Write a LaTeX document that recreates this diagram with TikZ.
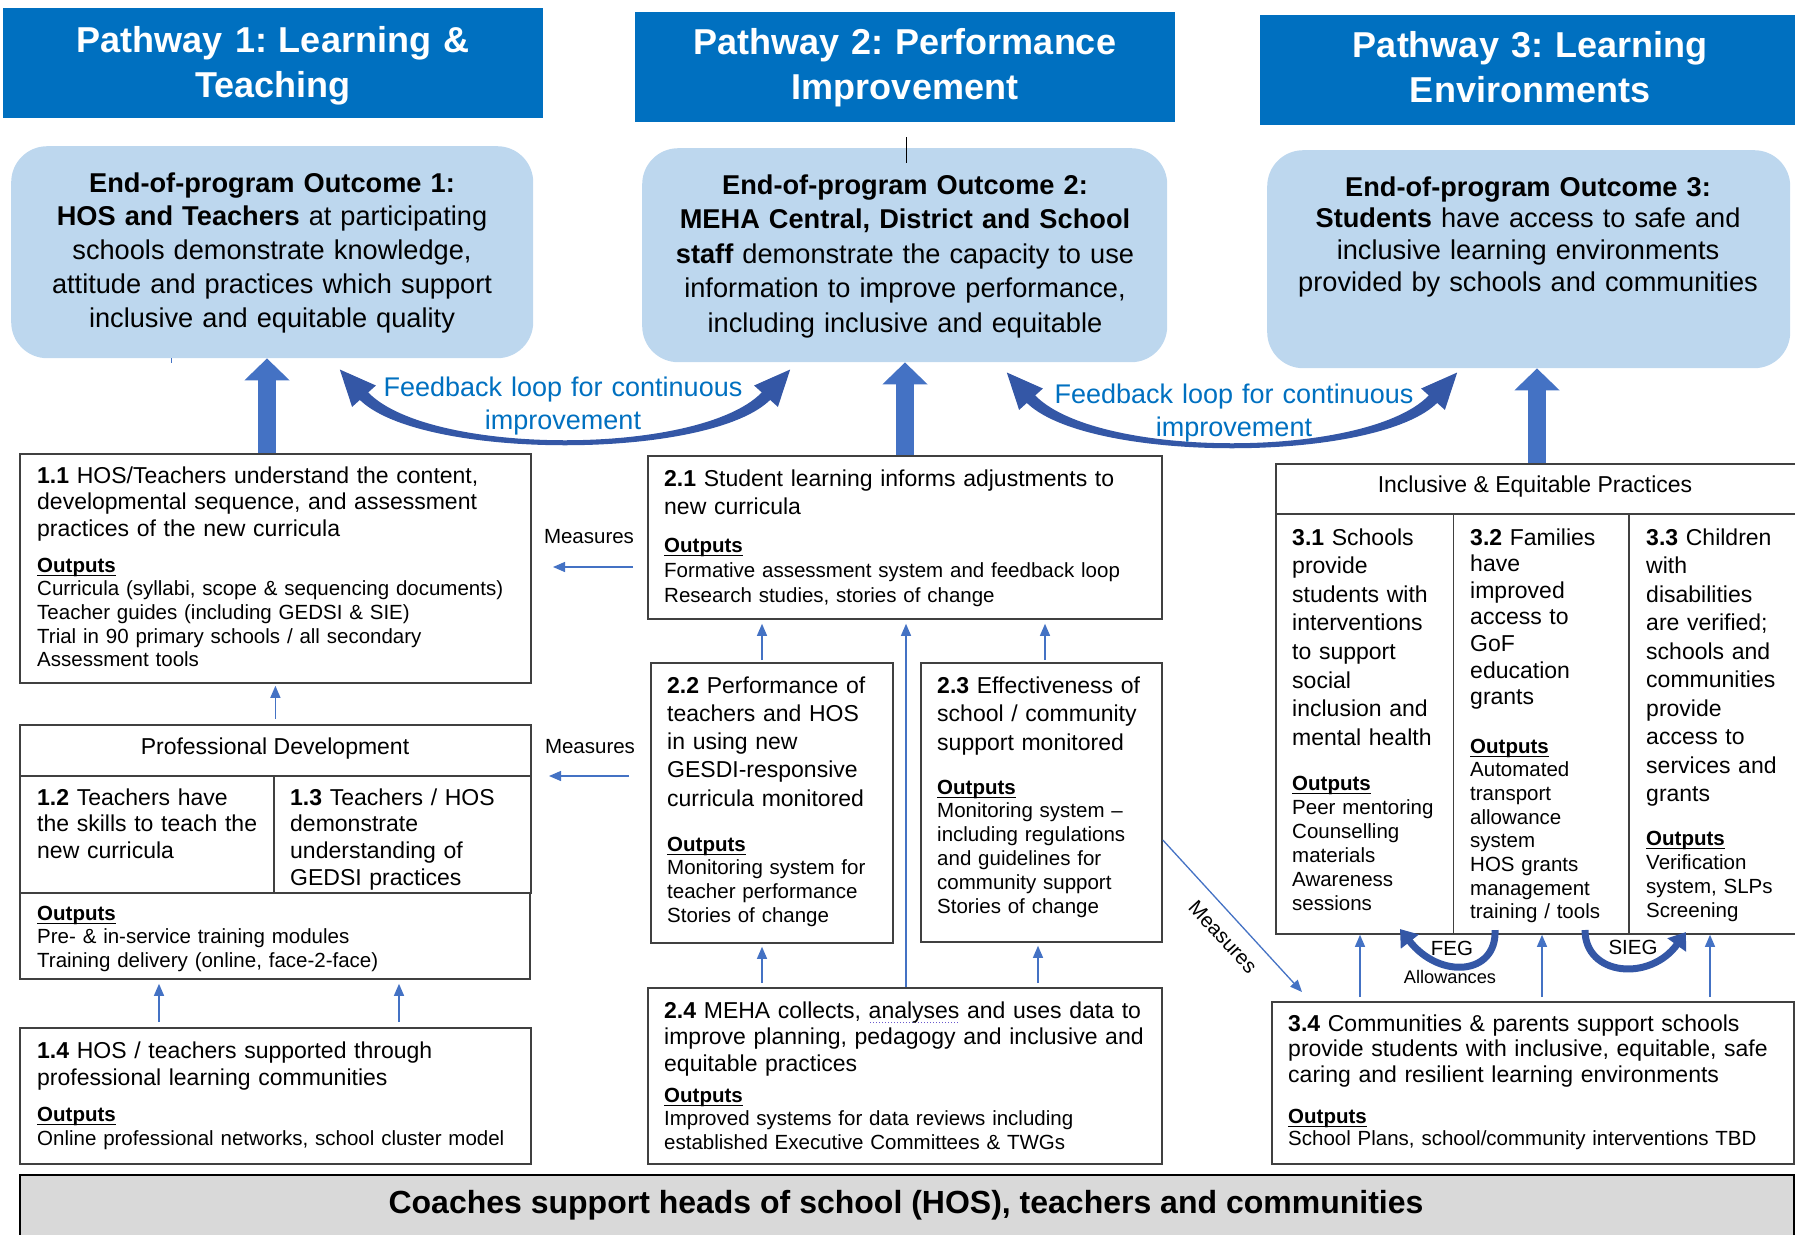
\documentclass[tikz,border=0pt]{standalone}
\usepackage{fontspec}
\setmainfont{Liberation Sans}
\usetikzlibrary{arrows.meta,calc}
\frenchspacing
\definecolor{hdrblue}{HTML}{0070C0}
\definecolor{outfill}{HTML}{BDD7EE}
\definecolor{arrblue}{HTML}{4472C4}
\definecolor{loopblue}{HTML}{3457A6}
\definecolor{fbtext}{HTML}{0070C0}
\definecolor{boxline}{HTML}{404040}
\definecolor{barfill}{HTML}{D9D9D9}
\definecolor{spellblue}{HTML}{6A5ACD}
\newcommand\outlbl{\setbox0\hbox{\textbf{Outputs}}\rlap{\rule[-4.2pt]{\wd0}{1.6pt}}\box0}
\newcommand\spellul[1]{\setbox0\hbox{#1}\rlap{\raisebox{-5pt}{\textcolor{spellblue}{\hbox to \wd0{\leaders\hbox to 3pt{\hss\rule{1.4pt}{1.4pt}\hss}\hfill}}}}\box0}
\tikzset{
  hdr/.style={fill=hdrblue, draw=none, anchor=north west, inner sep=0pt},
  outc/.style={fill=outfill, draw=none, rounded corners=36pt, anchor=north west, inner sep=0pt},
  bx/.style={draw=boxline, line width=1.8pt, anchor=north west, inner sep=0pt},
  bt/.style={anchor=base west, inner sep=0pt, align=left, text width=620pt, font=\fontsize{23}{#1}\selectfont},
  ot/.style={anchor=base west, inner sep=0pt, align=left, text width=620pt, font=\fontsize{20.5}{#1}\selectfont},
  ct/.style={anchor=base, inner sep=0pt, align=center, text width=700pt},
  hdrtxt/.style={ct, text=white, font=\fontsize{36}{45}\selectfont\bfseries},
  outtxt/.style={ct, font=\fontsize{27.2}{#1}\selectfont},
  fbtxt/.style={ct, text=fbtext, font=\fontsize{27}{33}\selectfont},
  lbl/.style={inner sep=0pt, font=\fontsize{20.5}{24}\selectfont},
  smarrow/.style={draw=arrblue, line width=1.3pt, -{Triangle[width=10pt,length=12pt]}},
  bigarrow/.style={draw=arrblue, line width=18pt, -{Triangle[width=44pt,length=22pt]}},
  arcarrow/.style={draw=loopblue, line width=7pt, -{Triangle[width=22pt,length=16pt]}}
}
\begin{document}
\begin{tikzpicture}[x=1pt,y=-1pt]
\useasboundingbox (0,0) rectangle (1795,1234);
\clip (0,0) rectangle (1795,1234);

% ---------- headers ----------
\node[hdr, minimum width=540pt, minimum height=110pt] (p1) at (3,8) {};
\node[hdrtxt] (p1t) at (273,52) {Pathway 1: Learning \&\\Teaching};
\node[hdr, minimum width=540pt, minimum height=110pt] (p2) at (635,12) {};
\node[hdrtxt] (p2t) at (905,54) {Pathway 2: Performance\\Improvement};
\node[hdr, minimum width=540pt, minimum height=110pt] (p3) at (1260,15) {};
\node[hdrtxt] (p3t) at (1530,57) {Pathway 3: Learning\\Environments};

% ---------- outcomes ----------
\node[outc, minimum width=522pt, minimum height=212pt] (o1) at (11,146) {};
\node[outtxt=33.75] (o1t) at (272,192) {\textbf{End-of-program Outcome 1:}\\\textbf{HOS and Teachers} at participating\\schools demonstrate knowledge,\\attitude and practices which support\\inclusive and equitable quality};
\node[outc, minimum width=525pt, minimum height=214pt] (o2) at (642,148) {};
\node[outtxt=34.5] (o2t) at (905,194) {\textbf{End-of-program Outcome 2:}\\\textbf{MEHA Central, District and School}\\\textbf{staff} demonstrate the capacity to use\\information to improve performance,\\including inclusive and equitable};
\node[outc, minimum width=523pt, minimum height=218pt] (o3) at (1267,150) {};
\node[outtxt=31.7] (o3t) at (1528,196) {\textbf{End-of-program Outcome 3:}\\\textbf{Students} have access to safe and\\inclusive learning environments\\provided by schools and communities};

\coordinate (tick1) at (906,137);
\coordinate (tick2) at (906,163);
\draw[black, line width=1pt] (tick1) -- (tick2);
\coordinate (mk1) at (171,358);
\coordinate (mk2) at (171,363);
\draw[arrblue, line width=1pt] (mk1) -- (mk2);

% ---------- feedback loops ----------
\begin{scope}
\fill[loopblue] (358,398) .. controls (416,461) and (714,461) .. (772,398) -- (764,390) .. controls (706,457) and (424,457) .. (366,390) -- cycle;
\fill[loopblue] (375.9,385.5) -- (339.8,369.5) -- (352.1,406.9) -- cycle;
\fill[loopblue] (777.9,406.9) -- (790.2,369.5) -- (754.1,385.5) -- cycle;
\end{scope}
\begin{scope}[shift={(667,3)}]
\fill[loopblue] (358,398) .. controls (416,461) and (714,461) .. (772,398) -- (764,390) .. controls (706,457) and (424,457) .. (366,390) -- cycle;
\fill[loopblue] (375.9,385.5) -- (339.8,369.5) -- (352.1,406.9) -- cycle;
\fill[loopblue] (777.9,406.9) -- (790.2,369.5) -- (754.1,385.5) -- cycle;
\end{scope}
\node[fbtxt] (fb1) at (563,396) {Feedback loop for continuous\\improvement};
\node[fbtxt] (fb2) at (1234,403) {Feedback loop for continuous\\improvement};

% ---------- pathway 1 ----------
\node[bx, minimum width=511pt, minimum height=229pt] (b11) at (19,453) {};
\node[bt=26.5] (b11t) at (37,483) {\textbf{1.1} HOS/Teachers understand the content,\\developmental sequence, and assessment\\practices of the new curricula};
\node[ot=23.7] (b11o) at (37,572) {\outlbl\\Curricula (syllabi, scope \& sequencing documents)\\Teacher guides (including GEDSI \& SIE)\\Trial in 90 primary schools / all secondary\\Assessment tools};

\node[bx, minimum width=511pt, minimum height=168pt] (pd) at (19,724) {};
\draw[boxline, line width=1.8pt] (pd.west |- 0,776) -- (pd.east |- 0,776);
\draw[boxline, line width=1.8pt] (274,776) -- (274,0 |- pd.south);
\node[anchor=base, inner sep=0pt, font=\fontsize{23}{26.5}\selectfont] (pdt) at (275,754) {Professional Development};
\node[bt=26.7] (b12t) at (37,805) {\textbf{1.2} Teachers have\\the skills to teach the\\new curricula};
\node[bt=26.7] (b13t) at (290,805) {\textbf{1.3} Teachers / HOS\\demonstrate\\understanding of\\GEDSI practices};
\node[bx, minimum width=510pt, minimum height=86pt] (pdo) at (19,892) {};
\node[ot=23.5] (pdot) at (37,920) {\outlbl\\Pre- \& in-service training modules\\Training delivery (online, face-2-face)};

\node[bx, minimum width=511pt, minimum height=136pt] (b14) at (19,1027) {};
\node[bt=27] (b14t) at (37,1058) {\textbf{1.4} HOS / teachers supported through\\professional learning communities};
\node[ot=24] (b14o) at (37,1121) {\outlbl\\Online professional networks, school cluster model};

% ---------- pathway 2 ----------
\node[bx, minimum width=514pt, minimum height=163pt] (b21) at (647,455) {};
\node[bt=28] (b21t) at (664,486) {\textbf{2.1} Student learning informs adjustments to\\new curricula};
\node[ot=25] (b21o) at (664,552) {\outlbl\\Formative assessment system and feedback loop\\Research studies, stories of change};

\node[bx, minimum width=242pt, minimum height=280pt] (b22) at (650,662) {};
\node[bt=28.3] (b22t) at (667,693) {\textbf{2.2} Performance of\\teachers and HOS\\in using new\\GESDI-responsive\\curricula monitored};
\node[ot=23.7] (b22o) at (667,851) {\outlbl\\Monitoring system for\\teacher performance\\Stories of change};

\node[bx, minimum width=241pt, minimum height=279pt] (b23) at (920,662) {};
\node[bt=28.5] (b23t) at (937,693) {\textbf{2.3} Effectiveness of\\school / community\\support monitored};
\node[ot=23.8] (b23o) at (937,794) {\outlbl\\Monitoring system –\\including regulations\\and guidelines for\\community support\\Stories of change};

\node[bx, minimum width=514pt, minimum height=176pt] (b24) at (647,987) {};
\node[bt=26.5] (b24t) at (664,1018) {\textbf{2.4} MEHA collects, \spellul{analyses}\ and uses data to\\improve planning, pedagogy and inclusive and\\equitable practices};
\node[ot=23.5] (b24o) at (664,1102) {\outlbl\\Improved systems for data reviews including\\established Executive Committees \& TWGs};

% ---------- pathway 3 ----------
\node[bx, minimum width=525pt, minimum height=470pt] (t3) at (1275,463) {};
\draw[boxline, line width=1.8pt] (t3.west |- 0,514) -- (t3.east |- 0,514);
\draw[boxline, line width=1.8pt] (1453.5,514) -- (1453.5,0 |- t3.south);
\draw[boxline, line width=1.8pt] (1629,514) -- (1629,0 |- t3.south);
\node[anchor=base, inner sep=0pt, font=\fontsize{23}{26.5}\selectfont] (t3h) at (1535,492) {Inclusive \& Equitable Practices};
\node[bt=28.6] (b31t) at (1292,545) {\textbf{3.1} Schools\\provide\\students with\\interventions\\to support\\social\\inclusion and\\mental health};
\node[ot=24] (b31o) at (1292,790) {\outlbl\\Peer mentoring\\Counselling\\materials\\Awareness\\sessions};
\node[bt=26.6] (b32t) at (1470,545) {\textbf{3.2} Families\\have\\improved\\access to\\GoF\\education\\grants};
\node[ot=23.7] (b32o) at (1470,753) {\outlbl\\Automated\\transport\\allowance\\system\\HOS grants\\management\\training / tools};
\node[bt=28.5] (b33t) at (1646,545) {\textbf{3.3} Children\\with\\disabilities\\are verified;\\schools and\\communities\\provide\\access to\\services and\\grants};
\node[ot=24] (b33o) at (1646,845) {\outlbl\\Verification\\system, SLPs\\Screening};

\node[bx, minimum width=522pt, minimum height=162pt] (b34) at (1271,1001) {};
\node[bt=25.5] (b34t) at (1288,1031) {\textbf{3.4} Communities \& parents support schools\\provide students with inclusive, equitable, safe\\caring and resilient learning environments};
\node[ot=22] (b34o) at (1288,1123) {\outlbl\\School Plans, school/community interventions TBD};

% ---------- bottom bar ----------
\node[draw=black, line width=2.2pt, fill=barfill, anchor=north west, inner sep=0pt, minimum width=1774pt, minimum height=72pt] (bar) at (19,1174) {};
\node[anchor=base, inner sep=0pt, font=\fontsize{32}{38}\selectfont\bfseries] (bart) at (906,1213) {Coaches support heads of school (HOS), teachers and communities};

% ---------- big arrows ----------
\draw[bigarrow] (267,0 |- b11.north) -- (267,0 |- o1.south);
\draw[bigarrow] (905,0 |- b21.north) -- (905,0 |- o2.south);
\draw[bigarrow] (1537,0 |- t3.north) -- (1537,0 |- o3.south);

% ---------- small arrows ----------
\draw[smarrow, shorten <=5pt, shorten >=2pt] (pd.north) -- (b11.south);
\draw[smarrow, shorten <=5pt, shorten >=4pt] (159,0 |- b14.north) -- (159,0 |- pdo.south);
\draw[smarrow, shorten <=5pt, shorten >=4pt] (399,0 |- b14.north) -- (399,0 |- pdo.south);

\coordinate (ms1a) at (633,567);
\coordinate (ms1b) at (553,567);
\draw[smarrow] (ms1a) -- (ms1b);
\node[lbl, anchor=base] (ms1) at (589,543) {Measures};
\coordinate (ms2a) at (629,776);
\coordinate (ms2b) at (549,776);
\draw[smarrow] (ms2a) -- (ms2b);
\node[lbl, anchor=base] (ms2) at (590,753) {Measures};

\draw[smarrow, shorten <=2pt, shorten >=4pt] (762,0 |- b22.north) -- (762,0 |- b21.south);
\draw[smarrow, shorten >=4pt] (906,0 |- b24.north) -- (906,0 |- b21.south);
\draw[smarrow, shorten <=2pt, shorten >=4pt] (1045,0 |- b23.north) -- (1045,0 |- b21.south);
\draw[smarrow, shorten <=4pt, shorten >=3pt] (762,0 |- b24.north) -- (762,0 |- b22.south);
\draw[smarrow, shorten <=4pt, shorten >=3pt] (1038,0 |- b24.north) -- (1038,0 |- b23.south);

\draw[smarrow, shorten <=4pt] (1360,0 |- b34.north) -- (1360,0 |- t3.south);
\draw[smarrow, shorten <=4pt] (1542,0 |- b34.north) -- (1542,0 |- t3.south);
\draw[smarrow, shorten <=4pt] (1710,0 |- b34.north) -- (1710,0 |- t3.south);

\coordinate (dg1) at (b23.east |- 0,840);
\coordinate (dg2) at (1302,992);
\draw[smarrow] (dg1) -- (dg2);
\node[lbl, rotate=-47.4] (ms3) at (1223,937) {Measures};

% ---------- FEG / SIEG ----------
\coordinate (feg1) at (1495,930);
\coordinate (feg2) at (1400,929);
\draw[arcarrow] (feg1) .. controls (1497,975) and (1440,980) .. (feg2);
\node[lbl] (feg) at (1452,948) {FEG};
\node[lbl, font=\fontsize{18.2}{22}\selectfont] (allow) at (1450,977) {Allowances};
\coordinate (sieg1) at (1585,930);
\coordinate (sieg2) at (1686,932);
\draw[arcarrow] (sieg1) .. controls (1585,976) and (1650,982) .. (sieg2);
\node[lbl] (sieg) at (1633,947) {SIEG};
\end{tikzpicture}
\end{document}
